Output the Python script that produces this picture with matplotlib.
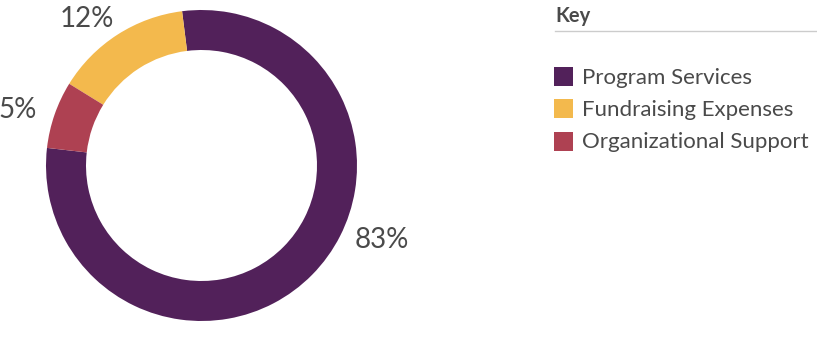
import matplotlib.pyplot as plt
from matplotlib.patches import Rectangle

# Data
categories = ["Program Services", "Fundraising Expenses", "Organizational Support"]
wedge_sizes = [78.8, 14.2, 7.0]   # arc sizes as drawn in the picture
pct_labels = ["83%", "12%", "5%"]   # printed labels
colors = ["#52215A", "#F3B94D", "#AE4152"]

W, H = 817, 344
text_color = "#4a4a4a"
plt.rcParams["font.family"] = ["Lato", "DejaVu Sans"]

fig = plt.figure(figsize=(W / 100, H / 100), dpi=100)

# donut
cx, cy, r = 201.5, 165.5, 155.5
ax = fig.add_axes([(cx - r) / W, (H - cy - r) / H, 2 * r / W, 2 * r / H])
ax.pie(
    wedge_sizes,
    colors=colors,
    startangle=173.5,
    counterclock=True,
    radius=1,
    wedgeprops=dict(width=40 / r, linewidth=0),
)
ax.set_xlim(-1, 1)
ax.set_ylim(-1, 1)
ax.set_aspect("equal")
ax.axis("off")

# percentage labels
label_pos = [(382, 240), (87, 19), (18, 110)]
for text, (px, py) in zip(pct_labels, label_pos):
    fig.text(px / W, 1 - py / H, text, fontsize=20, color=text_color,
             ha="center", va="center")

# key
kax = fig.add_axes([0, 0, 1, 1])
kax.set_xlim(0, W)
kax.set_ylim(H, 0)
kax.axis("off")
kax.text(555, 16, "Key", fontsize=14.5, fontweight="bold", color=text_color,
         ha="left", va="center")
kax.plot([555, 817], [30.5, 30.5], color="#cccccc", linewidth=1)
row_y = [76, 108, 141]
for name, c, y in zip(categories, colors, row_y):
    kax.add_patch(Rectangle((554, y - 9.5), 19, 19, color=c, linewidth=0))
    kax.text(582, y + 1.5, name, fontsize=16, color=text_color, ha="left", va="center")

fig.savefig("out.png", dpi=100)
